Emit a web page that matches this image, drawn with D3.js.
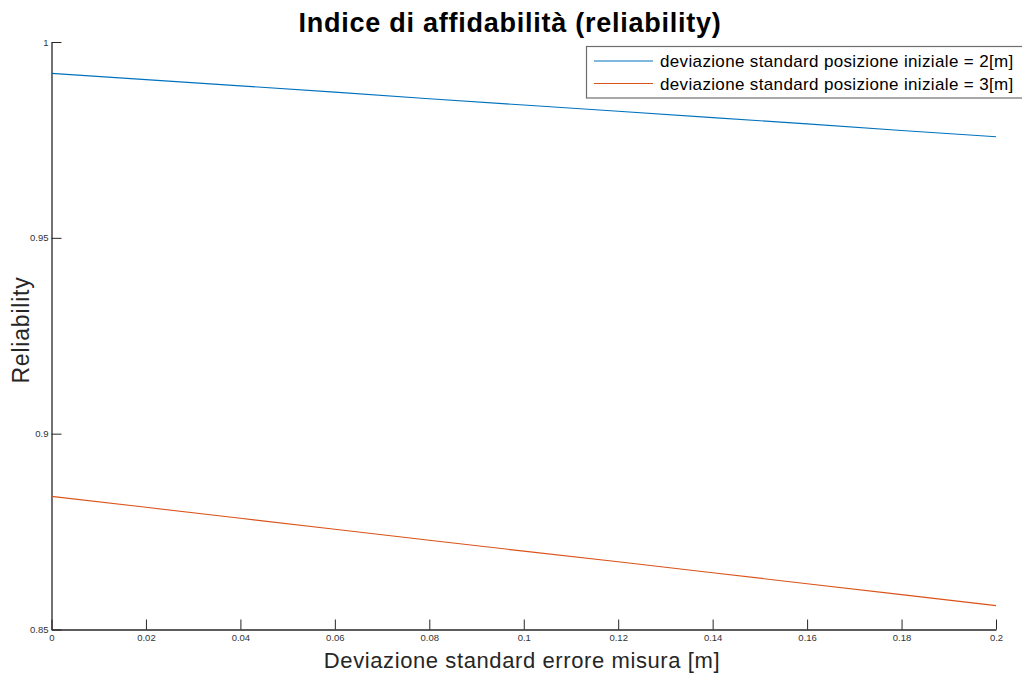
<!DOCTYPE html>
<html>
<head>
<meta charset="utf-8">
<script src="https://cdn.jsdelivr.net/npm/d3@7"></script>
<style>
  html, body { margin: 0; padding: 0; background: #fff; }
  svg { display: block; font-family: "Liberation Sans", Arial, Helvetica, sans-serif; }
</style>
</head>
<body>
<svg id="chart" width="1022" height="676"></svg>
<script>
// Measurement error standard deviation [m]
const sigmaErr = [0, 0.02, 0.04, 0.06, 0.08, 0.1, 0.12, 0.14, 0.16, 0.18, 0.2];
// Reliability for initial position std = 2 m
const rel2 = [0.9920, 0.9904, 0.9888, 0.9872, 0.9855, 0.9839, 0.9823, 0.9807, 0.9791, 0.9774, 0.9758];
// Reliability for initial position std = 3 m
const rel3 = [0.8840, 0.8812, 0.8784, 0.8756, 0.8728, 0.8700, 0.8673, 0.8645, 0.8617, 0.8589, 0.8561];

const seriesNames = [
  "deviazione standard posizione iniziale = 2[m]",
  "deviazione standard posizione iniziale = 3[m]"
];
const seriesColors = ["#0072BD", "#D95319"];
const xTicks = [0, 0.02, 0.04, 0.06, 0.08, 0.1, 0.12, 0.14, 0.16, 0.18, 0.2];
const yTicks = [0.85, 0.9, 0.95, 1];

const svg = d3.select("#chart");
const plotLeft = 51.5, plotRight = 996, plotTop = 42, plotBottom = 629.5;

const x = d3.scaleLinear().domain([0, 0.2]).range([plotLeft, plotRight]);
const y = d3.scaleLinear().domain([0.85, 1]).range([plotBottom, plotTop]);

const axisColor = "#262626";
const tickLen = 10;

// x axis (ticks pointing inward)
const gx = svg.append("g").attr("transform", `translate(0,${plotBottom})`)
  .call(d3.axisBottom(x).tickValues(xTicks).tickSizeInner(-tickLen).tickSizeOuter(0)
    .tickPadding(3).tickFormat(d3.format("~g")));
gx.select(".domain").attr("stroke", axisColor).attr("stroke-width", 1.3);
gx.selectAll(".tick line").attr("stroke", axisColor).attr("stroke-width", 1);
gx.selectAll(".tick text").attr("fill", "#333").attr("font-size", 9.5)
  .attr("font-family", "Liberation Sans, Arial, sans-serif").attr("dy", "0.9em");

// y axis (ticks pointing inward)
const gy = svg.append("g").attr("transform", `translate(${plotLeft},0)`)
  .call(d3.axisLeft(y).tickValues(yTicks).tickSizeInner(-tickLen).tickSizeOuter(0)
    .tickPadding(3).tickFormat(d3.format("~g")));
gy.select(".domain").attr("stroke", axisColor).attr("stroke-width", 1.3);
gy.selectAll(".tick line").attr("stroke", axisColor).attr("stroke-width", 1);
gy.selectAll(".tick text").attr("fill", "#333").attr("font-size", 9.5)
  .attr("font-family", "Liberation Sans, Arial, sans-serif");

// data lines
const line = d3.line().x((d, i) => x(sigmaErr[i])).y(d => y(d));
[rel2, rel3].forEach((s, k) => {
  svg.append("path").datum(s)
    .attr("fill", "none")
    .attr("stroke", seriesColors[k])
    .attr("stroke-width", 1.1)
    .attr("d", line);
});

// title
svg.append("text")
  .attr("x", 510).attr("y", 32)
  .attr("text-anchor", "middle")
  .attr("font-size", 27).attr("font-weight", "bold").attr("fill", "#000")
  .attr("letter-spacing", 0.75)
  .text("Indice di affidabilità (reliability)");

// axis labels
svg.append("text")
  .attr("x", 522).attr("y", 668)
  .attr("text-anchor", "middle")
  .attr("font-size", 22).attr("fill", "#262626")
  .attr("letter-spacing", 0.6)
  .text("Deviazione standard errore misura [m]");

svg.append("text")
  .attr("transform", "translate(29,330) rotate(-90)")
  .attr("text-anchor", "middle")
  .attr("font-size", 23).attr("fill", "#262626")
  .attr("letter-spacing", 0.8)
  .text("Reliability");

// legend
const legend = svg.append("g");
legend.append("rect")
  .attr("x", 586.5).attr("y", 46.5).attr("width", 440).attr("height", 51.5)
  .attr("fill", "#fff").attr("stroke", "#6e6e6e").attr("stroke-width", 1.2);
seriesNames.forEach((name, k) => {
  const ly = 61 + k * 22.5;
  legend.append("line")
    .attr("x1", 594).attr("x2", 653).attr("y1", ly).attr("y2", ly)
    .attr("stroke", seriesColors[k]).attr("stroke-width", 1.1);
  legend.append("text")
    .attr("x", 660).attr("y", ly + 6)
    .attr("font-size", 17).attr("fill", "#000")
    .attr("letter-spacing", 0.35)
    .text(name);
});
</script>
</body>
</html>
